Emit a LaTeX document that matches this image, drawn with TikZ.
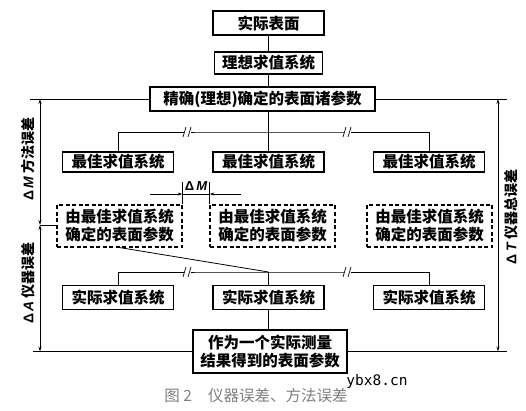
\documentclass[tikz,border=0pt]{standalone}
\usepackage{fontspec}
\usetikzlibrary{arrows.meta}
\newfontfamily\cjk{Noto Sans CJK SC}
\newfontfamily\latinsans{Liberation Sans}
\newfontfamily\wmfont{DejaVu Sans Mono}
\newcommand{\errsym}[1]{{\latinsans\bfseries Δ\,\itshape #1}}
\begin{document}
\begin{tikzpicture}[x=1pt, y=-1pt, line width=0.8pt]
  \tikzstyle{box} = [draw, line width=1.1pt, inner sep=0pt, align=center, font=\cjk\bfseries\fontsize{15.5}{18}\selectfont]
  \tikzstyle{sys_box} = [box, minimum width=111pt, minimum height=20pt]
  \tikzstyle{real_box} = [box, minimum width=111pt, minimum height=24pt]
  \tikzstyle{dash_box} = [box, dash pattern=on 4pt off 2.5pt, minimum width=125pt, minimum height=42pt]
  \tikzstyle{dim_line} = [{Stealth[length=5pt,width=3pt]}-{Stealth[length=5pt,width=3pt]}]
  \tikzstyle{dim_text} = [rotate=90, font=\cjk\bfseries\fontsize{14}{16}\selectfont]

  \useasboundingbox (0,0) rectangle (526,411);

  % Top chain
  \node[box, minimum width=111pt, minimum height=24pt] (surface) at (268.5,23) {实际表面};
  \node[box, minimum width=108pt, minimum height=22pt] (ideal) at (268.5,63) {理想求值系统};
  \node[box, minimum width=225pt, minimum height=24pt] (exact) at (262.5,99) {精确(理想)确定的表面诸参数};
  \draw (surface) -- (ideal);
  \draw (ideal) -- (ideal |- exact.north);

  % Best evaluation systems
  \coordinate (top-fork) at (268.5,132);
  \foreach \x/\i in {118/1, 268.5/2, 429/3}
    \node[sys_box] (best-\i) at (\x,162) {最佳求值系统};
  \draw (ideal |- exact.south) -- (top-fork);
  \draw (best-1.north) |- (top-fork) -| (best-3.north);
  \draw (top-fork) -- (best-2.north);

  % Parameters from best systems
  \foreach \x/\i in {119.5/1, 272.5/2, 429.5/3}
    \node[dash_box] (dash-\i) at (\x,226) {由最佳求值系统\\确定的表面参数};

  % Real evaluation systems
  \coordinate (bot-fork) at (268.5,272);
  \foreach \x/\i in {118/1, 268.5/2, 429/3}
    \node[real_box] (real-\i) at (\x,297.5) {实际求值系统};
  \draw (dash-1.south) -- (bot-fork);
  \draw (real-1.north) |- (bot-fork) -| (real-3.north);
  \draw (bot-fork) -- (real-2.north);

  \node[box, minimum width=154pt, minimum height=43pt] (result) at (270,351.5) {作为一个实际测量\\结果得到的表面参数};
  \draw (real-2.south) -- (real-2.south |- result.north);

  % Breaks in the branch lines
  \foreach \y in {132, 272}
    \foreach \x in {187, 347}
    {
    \fill[white] (\x-3.5,\y-1.5) rectangle (\x+3.5,\y+1.5);
    \draw[line width=0.7pt] (\x-4,\y+5) .. controls (\x-3,\y) .. (\x-1,\y-5);
    \draw[line width=0.7pt] (\x+1,\y+5) .. controls (\x+2,\y) .. (\x+4,\y-5);
    }

  % Reference lines
  \coordinate (top-l) at (30,99);
  \coordinate (top-r) at (507,99);
  \coordinate (bot-l) at (33,351.5);
  \coordinate (bot-r) at (507,351.5);
  \draw (top-l) -- (exact.west);
  \draw (exact.east) -- (top-r);
  \draw (bot-l) -- (result.west);
  \draw (result.east) -- (bot-r);

  % Error dimensions
  \coordinate (dm-top) at (40,99);
  \coordinate (dm-mid) at (40,225);
  \coordinate (dm-bot) at (40,351.5);
  \coordinate (dt-top) at (498,99);
  \coordinate (dt-bot) at (498,351.5);
  \draw[dim_line] (dm-top) -- (dm-mid);
  \draw[dim_line] (dm-mid) -- (dm-bot);
  \draw[dim_line] (dt-top) -- (dt-bot);
  \draw (dm-mid) -- (dash-1.west |- dm-mid);
  \node[dim_text] (m-text) at (28,159) {\errsym{M}\ 方法误差};
  \node[dim_text] (a-text) at (28,283) {\errsym{A}\ 仪器误差};
  \node[dim_text] (t-text) at (511,217) {\errsym{T}\ 仪器总误差};

  % Method error between two best systems
  \draw (dash-1.north east) -- ++(0,-22);
  \draw (dash-2.north west) -- ++(0,-22);
  \coordinate (dmm-l) at (150,194);
  \coordinate (dmm-r) at (241,194);
  \draw[-{Stealth[length=5pt,width=3pt]}] (dmm-l) -- (dmm-l -| dash-1.north east);
  \draw[-{Stealth[length=5pt,width=3pt]}] (dmm-r) -- (dmm-r -| dash-2.north west);
  \draw (dmm-l -| dash-1.north east) -- (dmm-r -| dash-2.north west);
  \node[font=\fontsize{13}{13}\selectfont] (dm-label) at (196,186) {\errsym{M}};

  % Caption
  \node[font=\cjk\fontsize{15.5}{17}\selectfont, text=gray] (caption) at (256,396) {图 2\hspace{16pt}仪器误差、方法误差};
  \node[font=\wmfont\fontsize{14.5}{15}\selectfont] (mark) at (377,381) {ybx8.cn};
\end{tikzpicture}
\end{document}
